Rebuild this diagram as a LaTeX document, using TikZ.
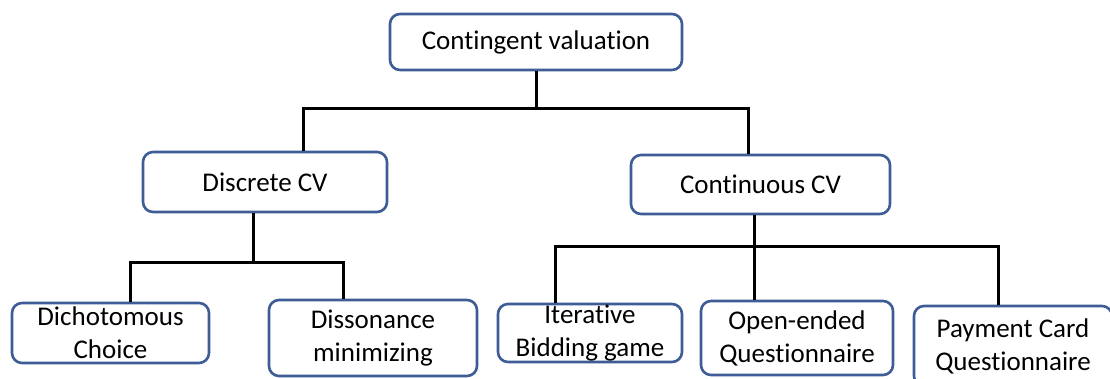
\documentclass[tikz,border=0pt]{standalone}
\usepackage{fontspec}
\setmainfont{Carlito}[Ligatures=NoCommon]
\usepackage{tikz}

\definecolor{boxblue}{RGB}{62,92,150}

\begin{document}
\begin{tikzpicture}[x=1pt,y=-1pt,
  box/.style={draw=boxblue,line width=2.6pt,rounded corners=10pt,
    inner sep=0pt,align=center,font=\fontsize{27}{33}\selectfont},
  link/.style={line width=3pt,line join=miter}]
\useasboundingbox (0,0) rectangle (1110,379);

\node[box,minimum width=292pt,minimum height=56pt] (CV) at (536,42)
{Contingent valuation};
\node[box,minimum width=244pt,minimum height=60pt] (DCV) at (265,182)
{Discrete CV};
\node[box,minimum width=259pt,minimum height=59pt] (CCV) at (760.5,184.5)
{Continuous CV};
\node[box,minimum width=197pt,minimum height=60pt] (DC) at (110.5,333)
{Dichotomous\\Choice};
\node[box,minimum width=208pt,minimum height=76pt] (DM) at (373,338)
{Dissonance\\minimizing};
\node[box,minimum width=184pt,minimum height=58pt] (IB) at (590,333)
{Iterative\\Bidding game};
\node[box,minimum width=192pt,minimum height=74pt] (OE) at (797,338)
{Open-ended\\Questionnaire};
\node[box,minimum width=198pt,minimum height=80pt] (PC) at (1013,346)
{Payment Card\\Questionnaire};

\coordinate (B1L) at (303,109);
\coordinate (B1R) at (748,109);
\coordinate (J2) at (253,262);
\coordinate (B2L) at (130,262);
\coordinate (B2R) at (343,262);
\coordinate (J3) at (754,247);
\coordinate (B3L) at (555,247);
\coordinate (B3R) at (998,247);

\draw[link] (CV.south) -- (CV.south |- B1L);
\draw[link] (B1L |- DCV.north) -- (B1L) -- (B1R) -- (B1R |- CCV.north);
\draw[link] (J2 |- DCV.south) -- (J2);
\draw[link] (B2L |- DC.north) -- (B2L) -- (B2R) -- (B2R |- DM.north);
\draw[link] (J3 |- CCV.south) -- (J3);
\draw[link] (B3L |- IB.north) -- (B3L) -- (B3R) -- (B3R |- PC.north);
\draw[link] (J3) -- (J3 |- OE.north);
\end{tikzpicture}
\end{document}
